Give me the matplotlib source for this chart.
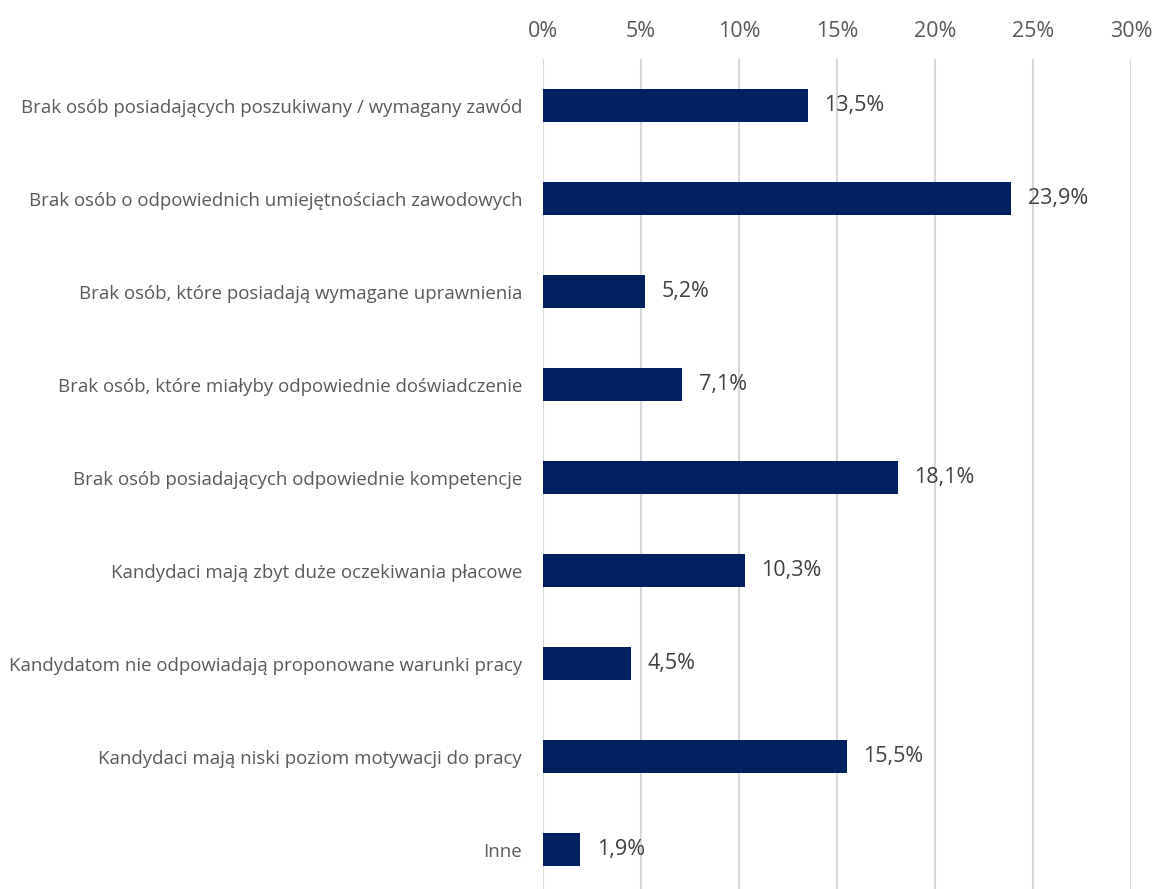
import matplotlib.pyplot as plt
import numpy as np

plt.rcParams['font.family'] = ['Open Sans', 'DejaVu Sans']

categories = [
    'Brak osób posiadających poszukiwany / wymagany zawód',
    'Brak osób o odpowiednich umiejętnościach zawodowych',
    'Brak osób, które posiadają wymagane uprawnienia',
    'Brak osób, które miałyby odpowiednie doświadczenie',
    'Brak osób posiadających odpowiednie kompetencje',
    'Kandydaci mają zbyt duże oczekiwania płacowe',
    'Kandydatom nie odpowiadają proponowane warunki pracy',
    'Kandydaci mają niski poziom motywacji do pracy',
    'Inne',
]
values = [13.5, 23.9, 5.2, 7.1, 18.1, 10.3, 4.5, 15.5, 1.9]
xticks = [0, 5, 10, 15, 20, 25, 30]

fig = plt.figure(figsize=(11.54, 8.89), dpi=100)
ax = fig.add_axes([0.4705, -0.0079, 0.5095, 0.9415])

y = np.arange(len(categories))
ax.barh(y, values, height=0.355, color='#002060', zorder=3)

# value labels next to the bars
for yi, v in zip(y, values):
    ax.annotate(f'{v:.1f}%'.replace('.', ','), (v, yi), xytext=(12, 0),
                textcoords='offset points', va='center', ha='left',
                fontsize=15.5, color='#404040')

ax.set_xlim(0, 30)
ax.set_ylim(len(categories) - 0.5, -0.5)
ax.set_xticks(xticks)
ax.set_xticklabels([f'{t}%' for t in xticks])
ax.set_yticks(y)
ax.set_yticklabels(categories)
ax.xaxis.tick_top()
ax.tick_params(axis='x', length=0, pad=12, labelsize=15.5, labelcolor='#595959')
ax.tick_params(axis='y', length=0, pad=15, labelsize=13.4, labelcolor='#595959')
ax.grid(axis='x', color='#d9d9d9', linewidth=1.5, zorder=0)
for s in ax.spines.values():
    s.set_visible(False)

fig.savefig('out.png', dpi=100)
